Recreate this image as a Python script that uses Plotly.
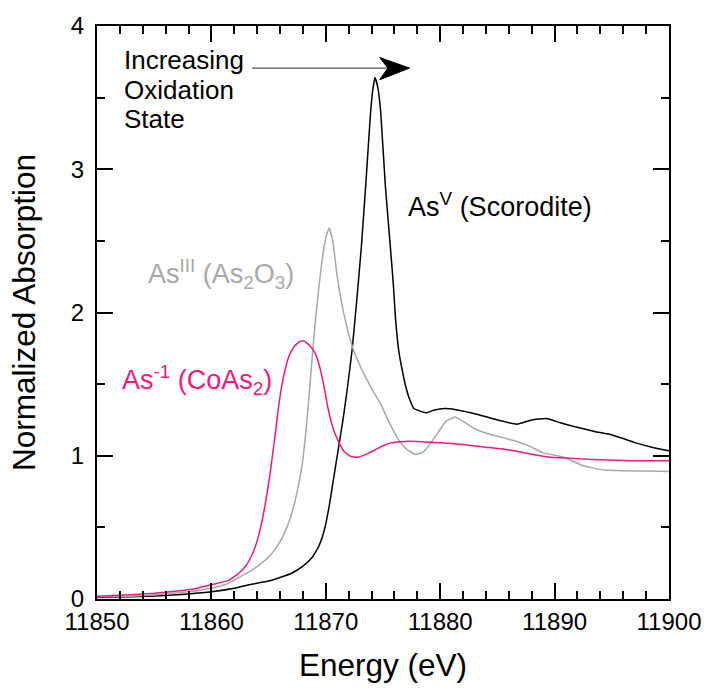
import plotly.graph_objects as go

# ---- data ----
e_scorodite = [11850, 11853, 11856, 11858, 11860, 11862, 11863.3, 11865, 11866, 11867, 11868, 11868.8,
               11869.4, 11869.9, 11870.3, 11870.7, 11871.1, 11871.5, 11871.9, 11872.3, 11872.7, 11873.1,
               11873.5, 11873.9, 11874.1, 11874.3, 11874.55, 11874.8, 11875.2, 11875.6, 11875.9, 11876.1,
               11876.4, 11876.7, 11877.0, 11877.3, 11877.7, 11878.3, 11878.8, 11879.5, 11880.4, 11881.5,
               11883.2, 11885, 11886.7, 11888, 11889.3, 11890.5, 11891.9, 11893.5, 11894.8, 11896, 11897.1,
               11898.5, 11900]
a_scorodite = [0.01, 0.015, 0.025, 0.035, 0.05, 0.075, 0.10, 0.125, 0.15, 0.18, 0.23, 0.29,
               0.37, 0.49, 0.65, 0.85, 1.05, 1.25, 1.48, 1.74, 2.08, 2.45,
               2.90, 3.38, 3.55, 3.64, 3.57, 3.40, 2.89, 2.50, 2.20, 1.95,
               1.72, 1.59, 1.48, 1.40, 1.33, 1.31, 1.30, 1.32, 1.33, 1.32,
               1.29, 1.25, 1.22, 1.25, 1.26, 1.23, 1.20, 1.17, 1.15, 1.12, 1.09,
               1.06, 1.035]

e_as2o3 = [11850, 11853, 11856, 11858, 11860, 11861.5, 11862.4, 11863.5, 11864.4, 11865.3, 11866,
           11866.6, 11867.1, 11867.5, 11867.9, 11868.2, 11868.5, 11868.8, 11869.1, 11869.4, 11869.7,
           11870, 11870.3, 11870.6, 11871, 11871.4, 11872, 11872.5, 11873.1, 11874, 11874.8, 11875.5,
           11876.3, 11877, 11877.8, 11878.4, 11878.9, 11879.8, 11880.5, 11881.3, 11882, 11883, 11883.9,
           11885.3, 11886.7, 11888, 11889, 11890.8, 11892.5, 11894.3, 11896, 11898, 11900]
a_as2o3 = [0.015, 0.02, 0.035, 0.05, 0.075, 0.11, 0.15, 0.20, 0.25, 0.32, 0.40,
           0.50, 0.62, 0.75, 0.92, 1.12, 1.38, 1.68, 1.95, 2.18, 2.38,
           2.52, 2.59, 2.50, 2.25, 2.06, 1.85, 1.72, 1.61, 1.47, 1.36, 1.24,
           1.12, 1.05, 1.01, 1.02, 1.06, 1.16, 1.24, 1.27, 1.24, 1.19, 1.16,
           1.13, 1.10, 1.06, 1.02, 0.99, 0.93, 0.90, 0.895, 0.893, 0.89]

e_coas2 = [11850, 11853, 11855, 11857, 11858.5, 11860, 11861.5, 11862.4, 11863, 11863.5, 11863.9,
           11864.3, 11864.7, 11865.1, 11865.5, 11865.9, 11866.3, 11866.8, 11867.3, 11867.8, 11868.1,
           11868.6, 11869.1, 11869.4, 11869.8, 11870.2, 11870.6, 11871.1, 11871.6, 11872.2, 11872.8,
           11873.5, 11874.3, 11875, 11875.7, 11876.9, 11878, 11880, 11881.8, 11884, 11886.1, 11888,
           11889.6, 11891, 11893, 11894.8, 11897, 11900]
a_coas2 = [0.02, 0.03, 0.04, 0.055, 0.07, 0.10, 0.13, 0.18, 0.23, 0.30, 0.38,
           0.50, 0.66, 0.86, 1.10, 1.36, 1.55, 1.70, 1.77, 1.80, 1.80,
           1.77, 1.71, 1.64, 1.50, 1.33, 1.20, 1.10, 1.03, 0.995, 0.99,
           1.01, 1.04, 1.07, 1.09, 1.10, 1.10, 1.09, 1.08, 1.06, 1.04, 1.01,
           0.99, 0.985, 0.975, 0.97, 0.965, 0.965]

series_names = ["As<sup>V</sup> (Scorodite)", "As<sup>III</sup> (As<sub>2</sub>O<sub>3</sub>)",
                "As<sup>-1</sup> (CoAs<sub>2</sub>)"]
series_colors = ["#000000", "#A8A8A8", "#F5177F"]
label_x = [11877.0, 11854.3, 11852.0]
label_y = [2.75, 2.27, 1.53]

note_lines = ["Increasing", "Oxidation", "State"]
note_y = [3.76, 3.555, 3.35]
note_x = 11852.2

arrow_x = [11863.54, 11877.32]
arrow_y = 3.706

x_ticks = [11850, 11860, 11870, 11880, 11890, 11900]
y_ticks = [0, 1, 2, 3, 4]

FONT = "Arial, Liberation Sans, sans-serif"

fig = go.Figure()
for e, a, name, col in zip([e_scorodite, e_as2o3, e_coas2],
                           [a_scorodite, a_as2o3, a_coas2], series_names, series_colors):
    fig.add_trace(go.Scatter(x=e, y=a, mode="lines", name=name,
                             line=dict(color=col, width=1.5, shape="spline", smoothing=0.4),
                             showlegend=False))

for name, col, lx, ly in zip(series_names, series_colors, label_x, label_y):
    fig.add_annotation(x=lx, y=ly, text=name, showarrow=False, xanchor="left", yanchor="middle",
                       font=dict(family=FONT, size=27, color=col))

for t, ny in zip(note_lines, note_y):
    fig.add_annotation(x=note_x, y=ny, text=t, showarrow=False, xanchor="left", yanchor="middle",
                       font=dict(family=FONT, size=26, color="black"))

# arrow: gray shaft + black notched head
fig.add_shape(type="line", x0=arrow_x[0], x1=arrow_x[1] - 1.0, y0=arrow_y, y1=arrow_y,
              line=dict(color="#555555", width=1.2))
tip = arrow_x[1]
head = (f"M {tip} {arrow_y} L {tip - 2.61} {arrow_y + 0.074} "
        f"L {tip - 1.89} {arrow_y} L {tip - 2.61} {arrow_y - 0.081} Z")
fig.add_shape(type="path", path=head, fillcolor="black", line=dict(color="black", width=1))

fig.update_xaxes(range=[11850, 11900], tickmode="array", tickvals=x_ticks,
                 ticktext=[str(v) for v in x_ticks],
                 showline=True, linecolor="black", linewidth=2, mirror="ticks",
                 ticks="inside", ticklen=16, tickwidth=2, tickcolor="black",
                 showgrid=False, zeroline=False,
                 minor=dict(tick0=11850, dtick=2, ticklen=8, tickwidth=2, tickcolor="black",
                            ticks="inside"),
                 tickfont=dict(family=FONT, size=24, color="black"),
                 title=dict(text="Energy (eV)", font=dict(family=FONT, size=31.5, color="black"),
                            standoff=20))
fig.update_yaxes(range=[0, 4], tickmode="array", tickvals=y_ticks,
                 ticktext=[str(v) for v in y_ticks],
                 showline=True, linecolor="black", linewidth=2, mirror="ticks",
                 ticks="inside", ticklen=16, tickwidth=2, tickcolor="black",
                 showgrid=False, zeroline=False, ticklabelstandoff=6,
                 minor=dict(tick0=0, dtick=0.5, ticklen=8, tickwidth=2, tickcolor="black",
                            ticks="inside"),
                 tickfont=dict(family=FONT, size=24, color="black"),
                 title=dict(text="Normalized Absorption", font=dict(family=FONT, size=31.5, color="black"),
                            standoff=26))

fig.update_layout(width=713, height=691, margin=dict(l=97, r=40, t=24, b=92),
                  paper_bgcolor="white", plot_bgcolor="white")

fig.write_html("out.html")
